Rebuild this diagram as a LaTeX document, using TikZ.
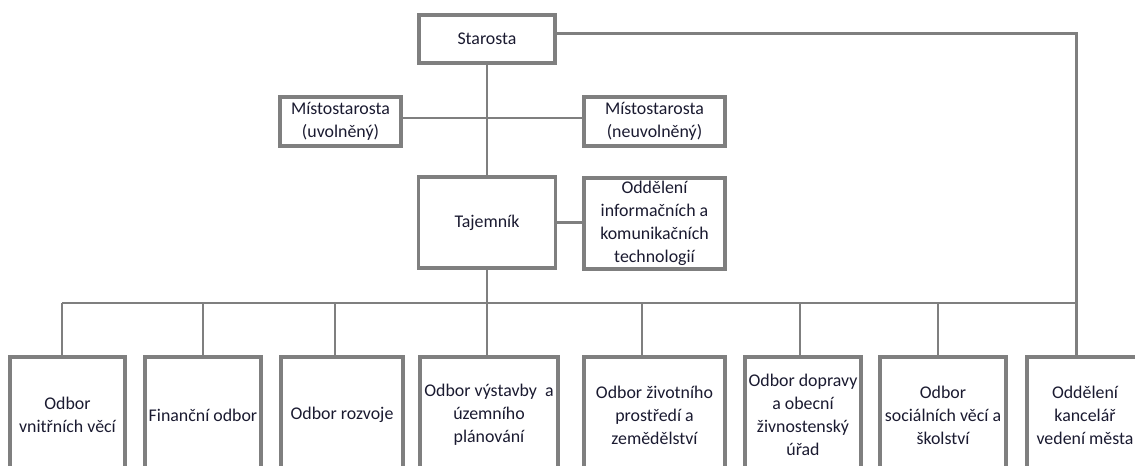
\documentclass[tikz,border=0pt]{standalone}
\usepackage{fontspec}
\setmainfont{Carlito}
\definecolor{linegray}{HTML}{7F7F7F}
\definecolor{txt}{HTML}{1A1A30}
\begin{document}
\begin{tikzpicture}[x=0.75pt,y=-0.75pt,
  box/.style={draw=linegray,line width=3.5*0.75pt,rectangle,align=center,text=txt,
    font=\fontsize{13.4}{17.3}\selectfont,inner sep=0pt},
  conn/.style={draw=linegray,line width=2.5*0.75pt}]
\useasboundingbox (0,0) rectangle (1135,465);
\clip (0,0) rectangle (1135,465);
% top
\node[box,minimum width=136*0.75pt,minimum height=48*0.75pt] (star) at (487,39) {Starosta};
\node[box,minimum width=121*0.75pt,minimum height=49*0.75pt] (mL) at (340.5,121.5) {Místostarosta\\(uvolněný)};
\node[box,minimum width=141*0.75pt,minimum height=49*0.75pt] (mR) at (654.5,121.5) {Místostarosta\\(neuvolněný)};
\node[box,minimum width=137*0.75pt,minimum height=91*0.75pt] (taj) at (487,222.5) {Tajemník};
\node[box,minimum width=141*0.75pt,minimum height=91*0.75pt] (ikt) at (654.5,223.5) {Oddělení\\informačních a\\komunikačních\\technologií};
% bottom
\node[box,minimum width=115*0.75pt,minimum height=116*0.75pt] (o1) at (67.5,415) {Odbor\\vnitřních věcí};
\node[box,minimum width=116*0.75pt,minimum height=116*0.75pt] (o2) at (203,415) {Finanční odbor};
\node[box,minimum width=122*0.75pt,minimum height=116*0.75pt] (o3) at (342,415) {Odbor rozvoje};
\node[box,minimum width=138*0.75pt,minimum height=116*0.75pt] (o4) at (489,415) {Odbor výstavby~ a\\územního\\plánování};
\node[box,minimum width=141*0.75pt,minimum height=116*0.75pt] (o5) at (654.5,415) {Odbor životního\\prostředí a\\zemědělství};
\node[box,minimum width=116*0.75pt,minimum height=116*0.75pt] (o6) at (803,415) {Odbor dopravy\\a obecní\\živnostenský\\úřad};
\node[box,minimum width=126*0.75pt,minimum height=116*0.75pt] (o7) at (943,415) {Odbor\\sociálních věcí a\\školství};
\node[box,minimum width=116*0.75pt,minimum height=116*0.75pt] (o8) at (1085,415) {Oddělení\\kancelář\\vedení města};
% connectors
\coordinate (mid) at (487,118);
\coordinate (sr) at (1076,33);
\coordinate (bl) at (62,303);
\coordinate (c2) at (203,303);
\coordinate (c3) at (335,303);
\coordinate (c5) at (642,303);
\coordinate (c6) at (800,303);
\coordinate (c7) at (938,303);
\coordinate (br) at (1076,303);
\draw[conn] (star.south) -- (taj.north);
\draw[conn] (mL.east |- mid) -- (mR.west |- mid);
\draw[conn] (taj.east) -- (ikt.west |- taj.east);
\draw[conn,line width=3*0.75pt] (star.east |- sr) -- (sr) -- (sr |- o8.north);
\draw[conn] (taj.south) -- (taj.south |- bl);
\draw[conn] (bl) -- (br);
\draw[conn] (bl) -- (bl |- o1.north);
\draw[conn] (c2) -- (c2 |- o2.north);
\draw[conn] (c3) -- (c3 |- o3.north);
\draw[conn] (taj.south |- bl) -- (taj.south |- o4.north);
\draw[conn] (c5) -- (c5 |- o5.north);
\draw[conn] (c6) -- (c6 |- o6.north);
\draw[conn] (c7) -- (c7 |- o7.north);
\end{tikzpicture}
\end{document}
